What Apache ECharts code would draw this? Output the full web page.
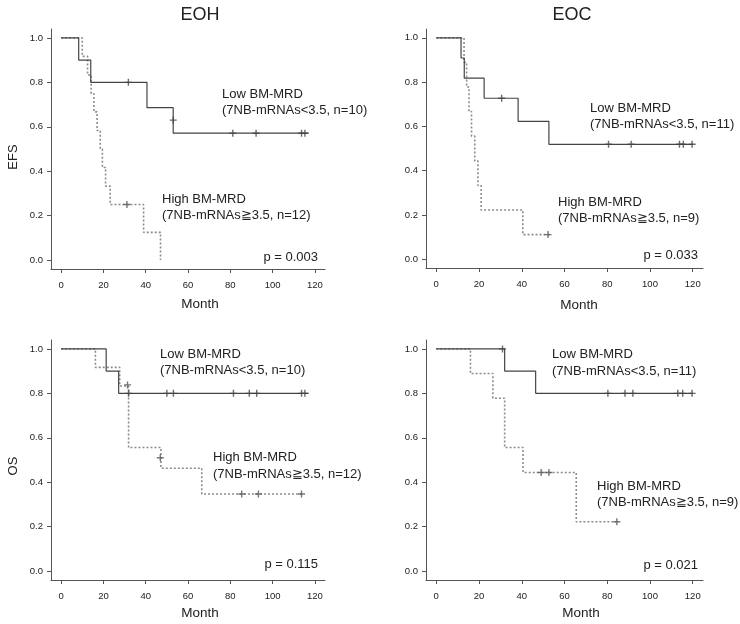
<!DOCTYPE html>
<html>
<head>
<meta charset="utf-8">
<script src="https://cdn.jsdelivr.net/npm/echarts@6/dist/echarts.min.js"></script>
<style>
  html, body { margin: 0; padding: 0; background: #fff; }
  #main { width: 740px; height: 624px; }
</style>
</head>
<body>
<div id="main"></div>
<script>
// tick labels
var monthTicks = [0, 20, 40, 60, 80, 100, 120];
var survTicks = [0, 0.2, 0.4, 0.6, 0.8, 1.0];

// EOH - EFS
var eohEfsLowTime = [0, 8.3, 14.0, 40.6, 53.0, 117];
var eohEfsLowSurv = [1, 0.9, 0.8, 0.686, 0.571, 0.571];
var eohEfsLowCensTime = [31.8, 53.0, 81.2, 92.2, 113.7, 115.3];
var eohEfsLowCensSurv = [0.8, 0.63, 0.571, 0.571, 0.571, 0.571];
var eohEfsHighTime = [0, 10.0, 12.5, 14.2, 15.5, 17.0, 18.5, 19.5, 21.0, 23.2, 39.0, 47.0];
var eohEfsHighSurv = [1, 0.917, 0.833, 0.75, 0.667, 0.583, 0.5, 0.417, 0.333, 0.25, 0.125, 0.0];
var eohEfsHighCensTime = [31.1];
var eohEfsHighCensSurv = [0.25];

// EOC - EFS
var eocEfsLowTime = [0, 11.6, 13.1, 22.4, 38.3, 52.7, 120];
var eocEfsLowSurv = [1, 0.909, 0.818, 0.727, 0.623, 0.519, 0.519];
var eocEfsLowCensTime = [30.6, 80.6, 91.2, 113.8, 115.6, 119.7];
var eocEfsLowCensSurv = [0.727, 0.519, 0.519, 0.519, 0.519, 0.519];
var eocEfsHighTime = [0, 13.0, 14.2, 15.3, 16.5, 18.0, 19.5, 21.0, 40.5, 53.0];
var eocEfsHighSurv = [1, 0.889, 0.778, 0.667, 0.556, 0.444, 0.333, 0.222, 0.111, 0.111];
var eocEfsHighCensTime = [52.3];
var eocEfsHighCensSurv = [0.111];

// EOH - OS
var eohOsLowTime = [0, 21.3, 27.2, 117];
var eohOsLowSurv = [1, 0.9, 0.8, 0.8];
var eohOsLowCensTime = [31.9, 50.0, 53.1, 81.5, 89.0, 92.5, 113.7, 115.3];
var eohOsLowCensSurv = [0.8, 0.8, 0.8, 0.8, 0.8, 0.8, 0.8, 0.8];
var eohOsHighTime = [0, 16.2, 27.7, 31.9, 47.2, 66.5, 114];
var eohOsHighSurv = [1, 0.917, 0.833, 0.556, 0.463, 0.347, 0.347];
var eohOsHighCensTime = [31.4, 46.9, 85.4, 93.3, 113.7];
var eohOsHighCensSurv = [0.838, 0.51, 0.347, 0.347, 0.347];

// EOC - OS
var eocOsLowTime = [0, 32.0, 46.5, 120];
var eocOsLowSurv = [1, 0.9, 0.8, 0.8];
var eocOsLowCensTime = [31.0, 80.3, 88.3, 92.0, 113.0, 115.3, 119.7];
var eocOsLowCensSurv = [1.0, 0.8, 0.8, 0.8, 0.8, 0.8, 0.8];
var eocOsHighTime = [0, 16.0, 26.5, 32.0, 40.6, 65.5, 84.5];
var eocOsHighSurv = [1, 0.889, 0.778, 0.556, 0.444, 0.222, 0.222];
var eocOsHighCensTime = [49.1, 52.7, 84.5];
var eocOsHighCensSurv = [0.444, 0.444, 0.222];

var FONT = 'Liberation Sans, Arial, sans-serif';
var plus = 'path://M4,0 H6 V10 H4 Z M0,4 H10 V6 H0 Z';

function pairs(t, s) {
  return t.map(function (x, i) { return [x, s[i]]; });
}

var panels = [
  { grid: { left: 51, top: 29, width: 274, height: 240 },
    low: [eohEfsLowTime, eohEfsLowSurv, eohEfsLowCensTime, eohEfsLowCensSurv],
    high: [eohEfsHighTime, eohEfsHighSurv, eohEfsHighCensTime, eohEfsHighCensSurv] },
  { grid: { left: 426, top: 29, width: 277, height: 239 },
    low: [eocEfsLowTime, eocEfsLowSurv, eocEfsLowCensTime, eocEfsLowCensSurv],
    high: [eocEfsHighTime, eocEfsHighSurv, eocEfsHighCensTime, eocEfsHighCensSurv] },
  { grid: { left: 51, top: 340, width: 274, height: 240 },
    low: [eohOsLowTime, eohOsLowSurv, eohOsLowCensTime, eohOsLowCensSurv],
    high: [eohOsHighTime, eohOsHighSurv, eohOsHighCensTime, eohOsHighCensSurv] },
  { grid: { left: 426, top: 340, width: 277, height: 240 },
    low: [eocOsLowTime, eocOsLowSurv, eocOsLowCensTime, eocOsLowCensSurv],
    high: [eocOsHighTime, eocOsHighSurv, eocOsHighCensTime, eocOsHighCensSurv] }
];

var grids = [], xAxes = [], yAxes = [], series = [];
panels.forEach(function (p, i) {
  grids.push(p.grid);
  xAxes.push({
    type: 'value', gridIndex: i, min: -4.8, max: 124.8,
    axisLine: { show: true, onZero: false, lineStyle: { color: '#555', width: 1 } },
    axisTick: { show: true, length: 4, customValues: monthTicks, lineStyle: { color: '#555' } },
    axisLabel: { customValues: monthTicks, fontSize: 9.5, color: '#222', margin: 11, fontFamily: FONT },
    splitLine: { show: false }
  });
  yAxes.push({
    type: 'value', gridIndex: i, min: -0.04, max: 1.04,
    axisLine: { show: true, onZero: false, lineStyle: { color: '#555', width: 1 } },
    axisTick: { show: true, length: 4, customValues: survTicks, lineStyle: { color: '#555' } },
    axisLabel: {
      customValues: survTicks, fontSize: 9.5, color: '#222', margin: 8, fontFamily: FONT,
      formatter: function (v) { return v.toFixed(1); }
    },
    splitLine: { show: false }
  });
  // low (solid)
  series.push({
    type: 'line', xAxisIndex: i, yAxisIndex: i, step: 'end', showSymbol: false, symbol: 'none',
    data: pairs(p.low[0], p.low[1]),
    lineStyle: { color: '#444', width: 1.2 }, z: 3
  });
  // high (dotted)
  series.push({
    type: 'line', xAxisIndex: i, yAxisIndex: i, step: 'end', showSymbol: false, symbol: 'none',
    data: pairs(p.high[0], p.high[1]),
    lineStyle: { color: '#8c8c8c', width: 1.6, type: [2, 2] }, z: 2
  });
  // censor marks
  series.push({
    type: 'scatter', xAxisIndex: i, yAxisIndex: i, symbol: plus, symbolSize: 7,
    data: pairs(p.low[2], p.low[3]), itemStyle: { color: '#444' }, z: 4
  });
  series.push({
    type: 'scatter', xAxisIndex: i, yAxisIndex: i, symbol: plus, symbolSize: 7,
    data: pairs(p.high[2], p.high[3]), itemStyle: { color: '#555' }, z: 4
  });
});

function txt(s, x, y, size, align, rot) {
  return {
    type: 'text', x: x, y: y, rotation: rot || 0,
    style: {
      text: s, fontSize: size, fontFamily: FONT, fill: '#222',
      align: align || 'left', textAlign: align || 'left',
      verticalAlign: 'middle', textVerticalAlign: 'middle'
    }
  };
}

var graphics = [
  txt('EOH', 200, 15, 18, 'center'),
  txt('EOC', 572, 15, 18, 'center'),
  txt('EFS', 13, 157, 13, 'center', Math.PI / 2),
  txt('OS', 13, 466, 13, 'center', Math.PI / 2),
  txt('Month', 200, 304, 13.5, 'center'),
  txt('Month', 579, 305, 13.5, 'center'),
  txt('Month', 200, 613, 13.5, 'center'),
  txt('Month', 581, 613, 13.5, 'center'),

  txt('Low BM-MRD', 222, 94, 13),
  txt('(7NB-mRNAs<3.5, n=10)', 222, 110, 13),
  txt('High BM-MRD', 162, 199, 13),
  txt('(7NB-mRNAs\u22673.5, n=12)', 162, 215, 13),
  txt('p = 0.003', 318, 257, 13, 'right'),

  txt('Low BM-MRD', 590, 108, 13),
  txt('(7NB-mRNAs<3.5, n=11)', 590, 124, 13),
  txt('High BM-MRD', 558, 202, 13),
  txt('(7NB-mRNAs\u22673.5, n=9)', 558, 218, 13),
  txt('p = 0.033', 698, 255, 13, 'right'),

  txt('Low BM-MRD', 160, 354, 13),
  txt('(7NB-mRNAs<3.5, n=10)', 160, 370, 13),
  txt('High BM-MRD', 213, 457, 13),
  txt('(7NB-mRNAs\u22673.5, n=12)', 213, 474, 13),
  txt('p = 0.115', 318, 564, 13, 'right'),

  txt('Low BM-MRD', 552, 354, 13),
  txt('(7NB-mRNAs<3.5, n=11)', 552, 371, 13),
  txt('High BM-MRD', 597, 486, 13),
  txt('(7NB-mRNAs\u22673.5, n=9)', 597, 502, 13),
  txt('p = 0.021', 698, 565, 13, 'right')
];

var chart = echarts.init(document.getElementById('main'), null, { renderer: 'canvas' });
chart.setOption({
  animation: false,
  backgroundColor: '#fff',
  grid: grids,
  xAxis: xAxes,
  yAxis: yAxes,
  series: series,
  graphic: graphics
});
</script>
</body>
</html>
